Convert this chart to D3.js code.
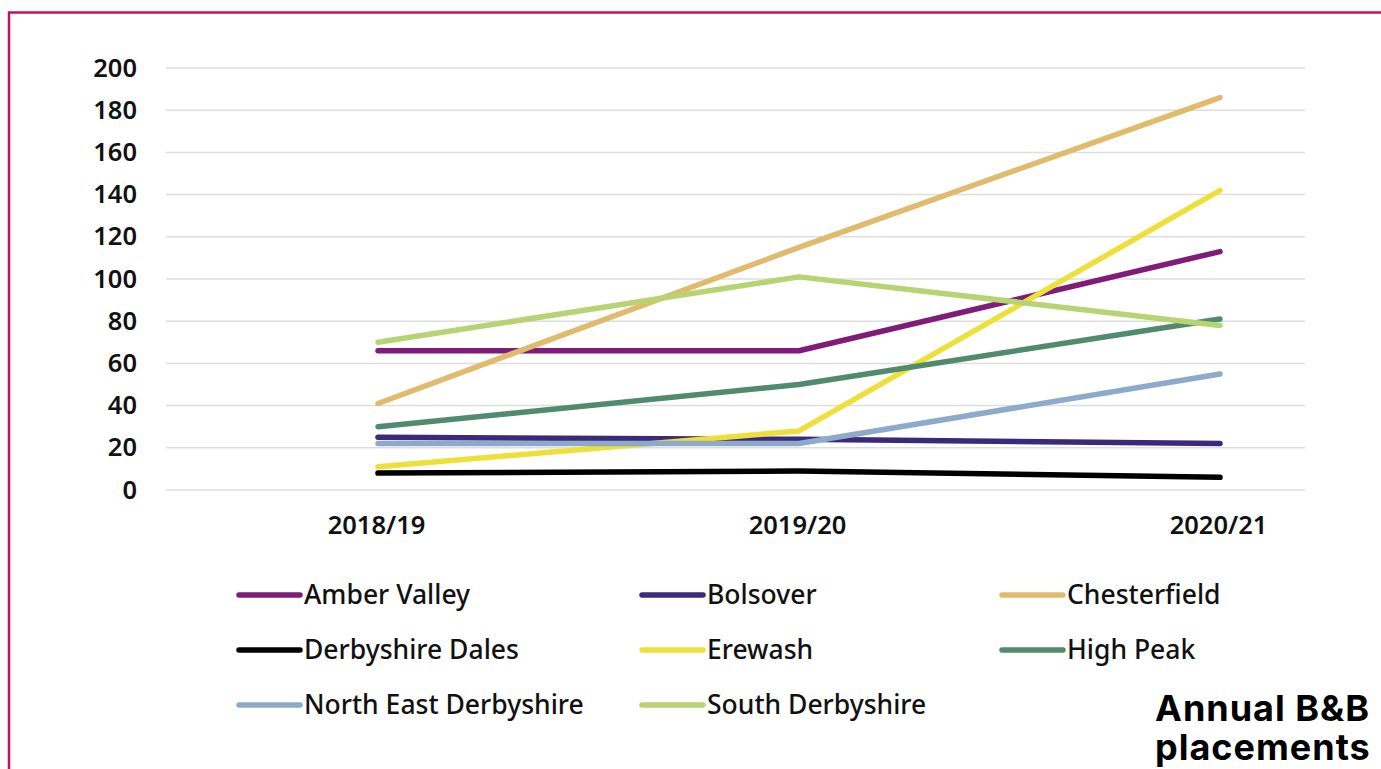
<!DOCTYPE html>
<html>
<head>
<meta charset="utf-8">
<script src="https://cdn.jsdelivr.net/npm/d3@7"></script>
<style>
  html, body { margin: 0; padding: 0; background: #fff; overflow: hidden; }
  svg { display: block; font-family: "Noto Sans", sans-serif; }
</style>
</head>
<body>
<svg id="chart"></svg>
<script>
const WIDTH = 1381;
const HEIGHT = 769;

const years = ['2018/19', '2019/20', '2020/21'];
const yTicks = [0, 20, 40, 60, 80, 100, 120, 140, 160, 180, 200];

const districts = [
  'Amber Valley', 'Bolsover', 'Chesterfield',
  'Derbyshire Dales', 'Erewash', 'High Peak',
  'North East Derbyshire', 'South Derbyshire',
];
const colours = [
  '#7f1b78', '#3b2a7c', '#e0bb6d',
  '#000000', '#ede03a', '#518b6e',
  '#8eaacb', '#b7d474',
];

const amberValley = [66, 66, 113];
const bolsover = [25, 24, 22];
const chesterfield = [41, 115, 186];
const derbyshireDales = [8, 9, 6];
const erewash = [11, 28, 142];
const highPeak = [30, 50, 81];
const northEastDerbyshire = [22, 22, 55];
const southDerbyshire = [70, 101, 78];

const seriesValues = [
  amberValley, bolsover, chesterfield, derbyshireDales,
  erewash, highPeak, northEastDerbyshire, southDerbyshire,
];

const series = districts.map((name, i) => ({
  name,
  colour: colours[i],
  values: seriesValues[i].map((v, j) => ({ year: years[j], value: v })),
}));

//-------------------------------------------------

const svg = d3.select('#chart')
  .attr('width', WIDTH)
  .attr('height', HEIGHT);

// frame
svg.append('path')
  .attr('d', `M9,${HEIGHT + 5} V12.5 H${WIDTH + 5}`)
  .attr('fill', 'none')
  .attr('stroke', '#c4115f')
  .attr('stroke-width', 2.5);

const grid = { left: 166, right: 1305 };

const x = d3.scalePoint()
  .domain(years)
  .range([378, 1220]);

const y = d3.scaleLinear()
  .domain([0, 200])
  .range([490, 68]);

// gridlines
svg.append('g')
  .selectAll('line')
  .data(yTicks)
  .join('line')
  .attr('x1', grid.left)
  .attr('x2', grid.right)
  .attr('y1', d => y(d))
  .attr('y2', d => y(d))
  .attr('stroke', '#dedede')
  .attr('stroke-width', 1.5);

// y axis
const yAxis = svg.append('g')
  .attr('transform', 'translate(137,0)')
  .call(d3.axisLeft(y).tickValues(yTicks).tickSize(0).tickPadding(0));
yAxis.select('.domain').remove();
yAxis.selectAll('text')
  .attr('font-family', '"Noto Sans", sans-serif')
  .attr('font-size', 25.5)
  .attr('font-weight', 600)
  .attr('fill', '#111');

// x axis
const xAxis = svg.append('g')
  .attr('transform', 'translate(-2,516)')
  .call(d3.axisBottom(x).tickSize(0).tickPadding(0));
xAxis.select('.domain').remove();
xAxis.selectAll('text')
  .attr('font-family', '"Noto Sans", sans-serif')
  .attr('font-size', 25.5)
  .attr('font-weight', 600)
  .attr('fill', '#111');

// lines
const line = d3.line()
  .x(d => x(d.year))
  .y(d => y(d.value));

svg.append('g')
  .selectAll('path')
  .data(series)
  .join('path')
  .attr('d', d => line(d.values))
  .attr('fill', 'none')
  .attr('stroke', d => d.colour)
  .attr('stroke-width', 5.5)
  .attr('stroke-linecap', 'round')
  .attr('stroke-linejoin', 'round');

// legend
const legendCols = [237, 640, 1000];
const legendRows = [595, 650, 705];

const legend = svg.append('g')
  .selectAll('g')
  .data(series)
  .join('g')
  .attr('transform', (d, i) => `translate(${legendCols[i % 3]},${legendRows[Math.floor(i / 3)]})`);

legend.append('line')
  .attr('x1', 2)
  .attr('x2', 63)
  .attr('stroke', d => d.colour)
  .attr('stroke-width', 5.5)
  .attr('stroke-linecap', 'round');

legend.append('text')
  .attr('x', 67)
  .attr('dy', '0.35em')
  .attr('font-size', 26.5)
  .attr('font-weight', 500)
  .attr('fill', '#111')
  .text(d => d.name);

// title
const title = svg.append('text')
  .attr('x', 1155)
  .attr('y', 721)
  .attr('font-family', 'Inter, "Noto Sans", sans-serif')
  .attr('font-size', 36)
  .attr('font-weight', 700)
  .attr('letter-spacing', 1)
  .attr('fill', '#000');
title.append('tspan').attr('x', 1155).text('Annual B&B');
title.append('tspan').attr('x', 1155).attr('dy', 39).text('placements');
</script>
</body>
</html>
